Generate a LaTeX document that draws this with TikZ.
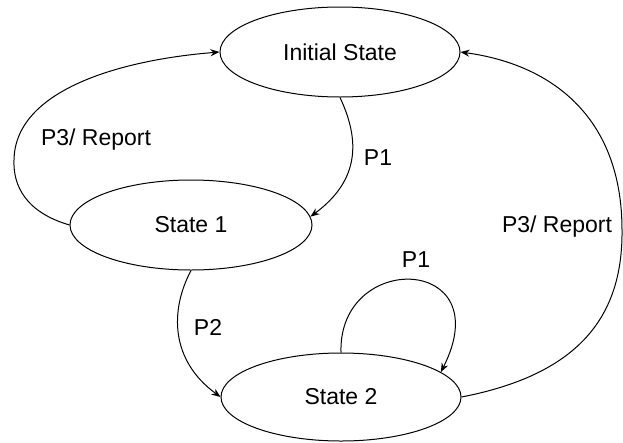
\documentclass[tikz,border=0pt]{standalone}
\usepackage{fontspec}
\setmainfont{Liberation Sans}
\usetikzlibrary{shapes.geometric,arrows.meta}
\begin{document}
\begin{tikzpicture}[x=1pt,y=-1pt,
  every node/.style={font=\fontsize{23}{27}\selectfont},
  statebox/.style={ellipse,draw,line width=1pt,inner sep=0pt},
  edgelabel/.style={inner sep=0pt},
  trans/.style={line width=1pt,-{Stealth[length=9pt,width=7pt]}}]
  \useasboundingbox (0,0) rectangle (623,442);
  % states
  \node[statebox,minimum width=240pt,minimum height=90pt] (init) at (340,52) {Initial State};
  \node[statebox,minimum width=242pt,minimum height=90pt] (s1) at (191,225) {State 1};
  \node[statebox,minimum width=240pt,minimum height=88pt] (s2) at (341,397) {State 2};
  % transitions
  \draw[trans] (s1.west) .. controls (25,212) and (13,185) .. (14,160)
                         .. controls (15,90) and (120,60) .. (init.west);
  \draw[trans] (init.south) .. controls (360,140) and (360,180) .. (s1.4);
  \draw[trans] (s1.south) .. controls (170,310) and (170,360) .. (s2.west);
  \draw[trans] (s2.north) .. controls (338,250) and (500,255) .. (s2.14);
  \draw[trans] (s2.east) .. controls (575,375) and (623,320) .. (622,230)
                         .. controls (622,120) and (555,65) .. (init.east);
  % labels
  \node[edgelabel] (l1) at (96,140) {P3/ Report};
  \node[edgelabel] (l2) at (378,158) {P1};
  \node[edgelabel] (l3) at (208,327) {P2};
  \node[edgelabel] (l4) at (416,260) {P1};
  \node[edgelabel] (l5) at (557,227) {P3/ Report};
\end{tikzpicture}
\end{document}
